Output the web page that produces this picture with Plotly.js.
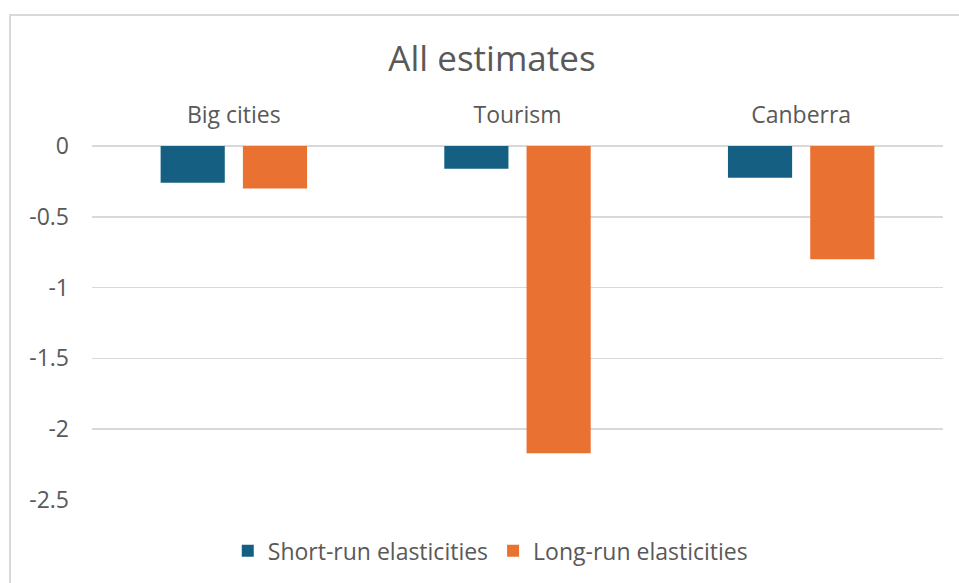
<!DOCTYPE html>
<html>
<head>
<meta charset="utf-8">
<script src="https://cdn.plot.ly/plotly-3.0.1.min.js"></script>
<style>
  html, body { margin: 0; padding: 0; background: #ffffff; }
  #frame { position: absolute; left: 9px; top: 14px; width: 1000px; height: 620px;
           border-left: 2px solid #d9d9d9; border-top: 2px solid #d9d9d9; }
  #chart { position: absolute; left: 0; top: 0; width: 959px; height: 583px; }
</style>
</head>
<body>
<div id="frame"></div>
<div id="chart"></div>
<script>
const categories = ["Big cities", "Tourism", "Canberra"];
const shortRun = [-0.26, -0.16, -0.225];
const longRun = [-0.30, -2.17, -0.80];
const seriesNames = ["Short-run elasticities", "Long-run elasticities"];
const yTickVals = [0, -0.5, -1, -1.5, -2, -2.5];
const yTickText = ["0", "-0.5", "-1", "-1.5", "-2", "-2.5"];

const fontFam = "'Open Sans', 'Liberation Sans', sans-serif";
const grey = "#595959";

const traces = [
  { type: "bar", name: seriesNames[0], x: categories, y: shortRun,
    marker: { color: "#156082" }, hoverinfo: "x+y" },
  { type: "bar", name: seriesNames[1], x: categories, y: longRun,
    marker: { color: "#E97132" }, hoverinfo: "x+y" }
];

const layout = {
  width: 959, height: 583,
  paper_bgcolor: "rgba(0,0,0,0)", plot_bgcolor: "rgba(0,0,0,0)",
  margin: { l: 92, r: 16, t: 146, b: 82 },
  font: { family: fontFam, color: grey, size: 23 },
  title: { text: "All estimates", font: { family: fontFam, size: 35, color: grey },
           x: 0.47, xref: "paper", xanchor: "center", y: 0.9, yref: "container", yanchor: "middle" },
  barmode: "group", bargap: 0.42, bargroupgap: 0.22,
  xaxis: { side: "top", showgrid: false, zeroline: false, showline: false, ticks: "",
           ticklabelstandoff: 17, tickfont: { size: 23, color: grey, family: fontFam } },
  yaxis: { range: [-2.5, 0], tickvals: yTickVals, ticktext: yTickText,
           showgrid: true, gridcolor: "#d9d9d9", gridwidth: 1.5,
           zeroline: true, zerolinecolor: "#d9d9d9", zerolinewidth: 1.5,
           showline: false, ticks: "", ticklabelstandoff: 22,
           tickfont: { size: 23, color: grey, family: fontFam } },
  legend: { orientation: "h", x: 0.468, xanchor: "center", y: -0.14, yanchor: "middle",
            font: { size: 23, color: grey, family: fontFam }, itemwidth: 30,
            bgcolor: "rgba(0,0,0,0)" },
  showlegend: true
};

Plotly.newPlot("chart", traces, layout, { displayModeBar: false, staticPlot: true });
</script>
</body>
</html>
